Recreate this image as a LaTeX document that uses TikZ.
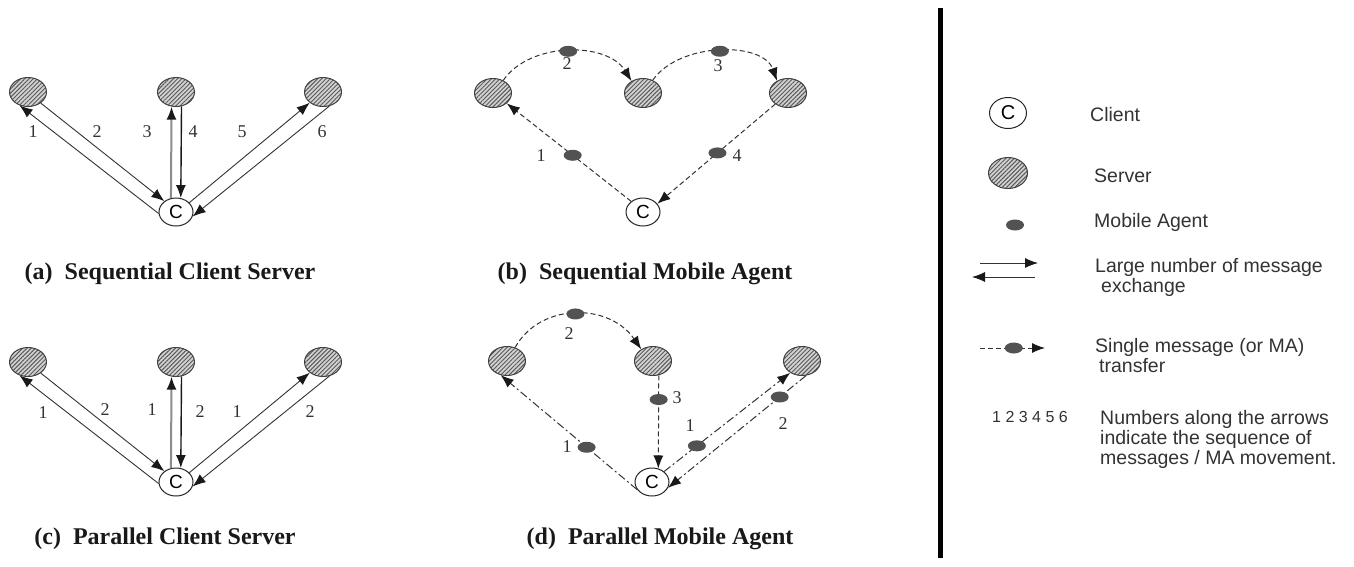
\documentclass[tikz,border=0pt]{standalone}
\usepackage{fontspec}
\setmainfont{Liberation Serif}
\setsansfont{Liberation Sans}
\usetikzlibrary{arrows.meta,shapes.geometric,patterns.meta}
\begin{document}
\begin{tikzpicture}[x=1pt,y=-1pt,
 server/.style={ellipse, draw=black!75, line width=1pt, minimum width=37pt, minimum height=29pt, inner sep=0pt,
   preaction={fill=gray!35}, pattern={Lines[angle=45,distance=3pt,line width=1pt]}, pattern color=black!65},
 client/.style={ellipse, draw=black!85, line width=1pt, fill=white, minimum width=34pt, minimum height=28pt,
   inner sep=0pt, font=\sffamily\fontsize{19}{19}\selectfont},
 agent/.style={ellipse, fill=black!68, minimum width=18pt, minimum height=11pt, inner sep=0pt},
 lbl/.style={font=\fontsize{18}{18}\selectfont, text=black!80, inner sep=0pt},
 captxt/.style={font=\bfseries\fontsize{24}{24}\selectfont, text=black!90, inner sep=0pt},
 msg/.style={draw=black!80, line width=0.9pt, -{Latex[length=13pt,width=10pt,color=black!90]}},
 ma/.style={draw=black!80, line width=1pt, dash pattern=on 5pt off 3pt, -{Latex[length=13pt,width=10pt,color=black!90]}},
 mad/.style={draw=black!80, line width=1pt, dash pattern=on 8pt off 3pt on 2pt off 3pt, -{Latex[length=13pt,width=10pt,color=black!90]}},
 leg/.style={font=\sffamily\fontsize{19.5}{20}\selectfont, text=black!80, inner sep=0pt, align=left},
]
\fill[white] (0,0) rectangle (1354,566);
\useasboundingbox (0,0) rectangle (1354,566);

% ---------- (a) Sequential Client Server ----------
\node[server] (Sa1) at (28,92) {};
\node[server] (Sa2) at (176,92) {};
\node[server] (Sa3) at (323,92) {};
\node[client] (Ca) at (176,212) {C};
\draw[msg] (Ca.185) -- (Sa1.238);
\draw[msg] (Sa1.319) -- (Ca.137);
\draw[msg, draw=black!45, line width=2pt] (Ca.110) -- (Sa2.253);
\draw[msg, draw=black!90, line width=1.4pt] (Sa2.291) -- (Ca.71);
\draw[msg] (Ca.35) -- (Sa3.219);
\draw[msg] (Sa3.294) -- (Ca.345);
\node[lbl] (la1) at (33,132) {1};
\node[lbl] (la2) at (97,132) {2};
\node[lbl] (la3) at (147,132) {3};
\node[lbl] (la4) at (193,132) {4};
\node[lbl] (la5) at (242,132) {5};
\node[lbl] (la6) at (322,132) {6};
\node[captxt] (capa) at (170,274) {(a)\ \ Sequential Client Server};

% ---------- (c) Parallel Client Server ----------
\node[server] (Sc1) at (28,362) {};
\node[server] (Sc2) at (176,362) {};
\node[server] (Sc3) at (323,362) {};
\node[client] (Cc) at (176,482) {C};
\draw[msg] (Cc.185) -- (Sc1.238);
\draw[msg] (Sc1.319) -- (Cc.137);
\draw[msg, draw=black!45, line width=2pt] (Cc.110) -- (Sc2.253);
\draw[msg, draw=black!90, line width=1.4pt] (Sc2.291) -- (Cc.71);
\draw[msg] (Cc.35) -- (Sc3.219);
\draw[msg] (Sc3.294) -- (Cc.345);
\node[lbl] (lc1) at (43,413) {1};
\node[lbl] (lc2) at (105,410) {2};
\node[lbl] (lc3) at (152,410) {1};
\node[lbl] (lc4) at (200,412) {2};
\node[lbl] (lc5) at (237,412) {1};
\node[lbl] (lc6) at (310,412) {2};
\node[captxt] (capc) at (165,539) {(c)\ \ Parallel Client Server};

% ---------- (b) Sequential Mobile Agent ----------
\node[server] (Sb1) at (493,93) {};
\node[server] (Sb2) at (643,93) {};
\node[server] (Sb3) at (788,93) {};
\node[client] (Cb) at (643,212) {C};
\draw[ma] (Sb1.51) .. controls (530,41.5) and (607,41.5) .. (Sb2.134) node[agent,pos=0.5] (Ab2) {};
\draw[ma] (Sb2.53) .. controls (680,41.5) and (763,41.5) .. (Sb3.132) node[agent,pos=0.5] (Ab3) {};
\draw[ma] (Cb.138) -- (Sb1.323) node[agent,pos=0.47] (Ab1) {};
\draw[ma] (Sb3.221) -- (Cb.30) node[agent,pos=0.49] (Ab4) {};
\node[lbl] (lb2) at (567,64) {2};
\node[lbl] (lb3) at (718,66) {3};
\node[lbl] (lb1) at (541,156) {1};
\node[lbl] (lb4) at (737,156) {4};
\node[captxt] (capb) at (645,274) {(b)\ \ Sequential Mobile Agent};

% ---------- (d) Parallel Mobile Agent ----------
\node[server] (Sd1) at (507,361) {};
\node[server] (Sd2) at (653,361) {};
\node[server] (Sd3) at (802,361) {};
\node[client] (Cd) at (652,482) {C};
\draw[ma] (Sd1.59) .. controls (540,302.5) and (609,302.5) .. (Sd2.135) node[agent,pos=0.5] (Ad2) {};
\draw[mad] (Cd.207) -- (Sd1.246) node[agent,pos=0.37] (Ad1) {};
\draw[ma] (Sd2.292) -- (Cd.65) node[agent,pos=0.26] (Ad3) {};
\draw[mad] (Cd.41) -- (Sd3.225) node[agent,pos=0.26] (Ad4) {};
\draw[mad] (Sd3.285) -- (Cd.340) node[agent,pos=0.19] (Ad5) {};
\node[lbl] (ld2) at (569,334) {2};
\node[lbl] (ld1) at (567,447) {1};
\node[lbl] (ld3) at (677,398) {3};
\node[lbl] (ld4) at (690,426) {1};
\node[lbl] (ld5) at (783,424) {2};
\node[captxt] (capd) at (660,539) {(d)\ \ Parallel Mobile Agent};

% ---------- divider ----------
\draw[line width=5pt] (940,8) -- (940,558);

% ---------- legend ----------
\node[client, minimum width=37pt, minimum height=31pt, font=\sffamily\fontsize{20}{20}\selectfont] (LC) at (1008,113) {C};
\node[leg, anchor=west] (tC) at (1090,115) {Client};
\node[server, minimum width=39pt, minimum height=31pt] (LS) at (1008,173) {};
\node[leg, anchor=west] (tS) at (1094,176) {Server};
\node[agent] (LA) at (1015,225) {};
\node[leg, anchor=west] (tA) at (1094,222) {Mobile Agent};
\coordinate (L1a) at (980,263); \coordinate (L1b) at (1038,263);
\draw[msg] (L1a) -- (L1b);
\coordinate (L2a) at (1035,277); \coordinate (L2b) at (972,277);
\draw[msg] (L2a) -- (L2b);
\node[leg, anchor=north west] (tL) at (1095,258) {Large number of message\\\hspace*{6pt}exchange};
\coordinate (L3a) at (980,348); \coordinate (L3b) at (1045,348);
\draw[ma] (L3a) -- (L3b) node[agent,pos=0.52] (LA2) {};
\node[leg, anchor=north west] (tM) at (1095,338) {Single message (or MA)\\\hspace*{4pt}transfer};
\node[font=\sffamily\fontsize{16}{16}\selectfont, text=black!80, inner sep=0pt] (tN) at (1030,417) {1 2 3 4 5 6};
\node[leg, anchor=north west] (tD) at (1100,410) {Numbers along the arrows\\indicate the sequence of\\messages / MA movement.};
\end{tikzpicture}
\end{document}
